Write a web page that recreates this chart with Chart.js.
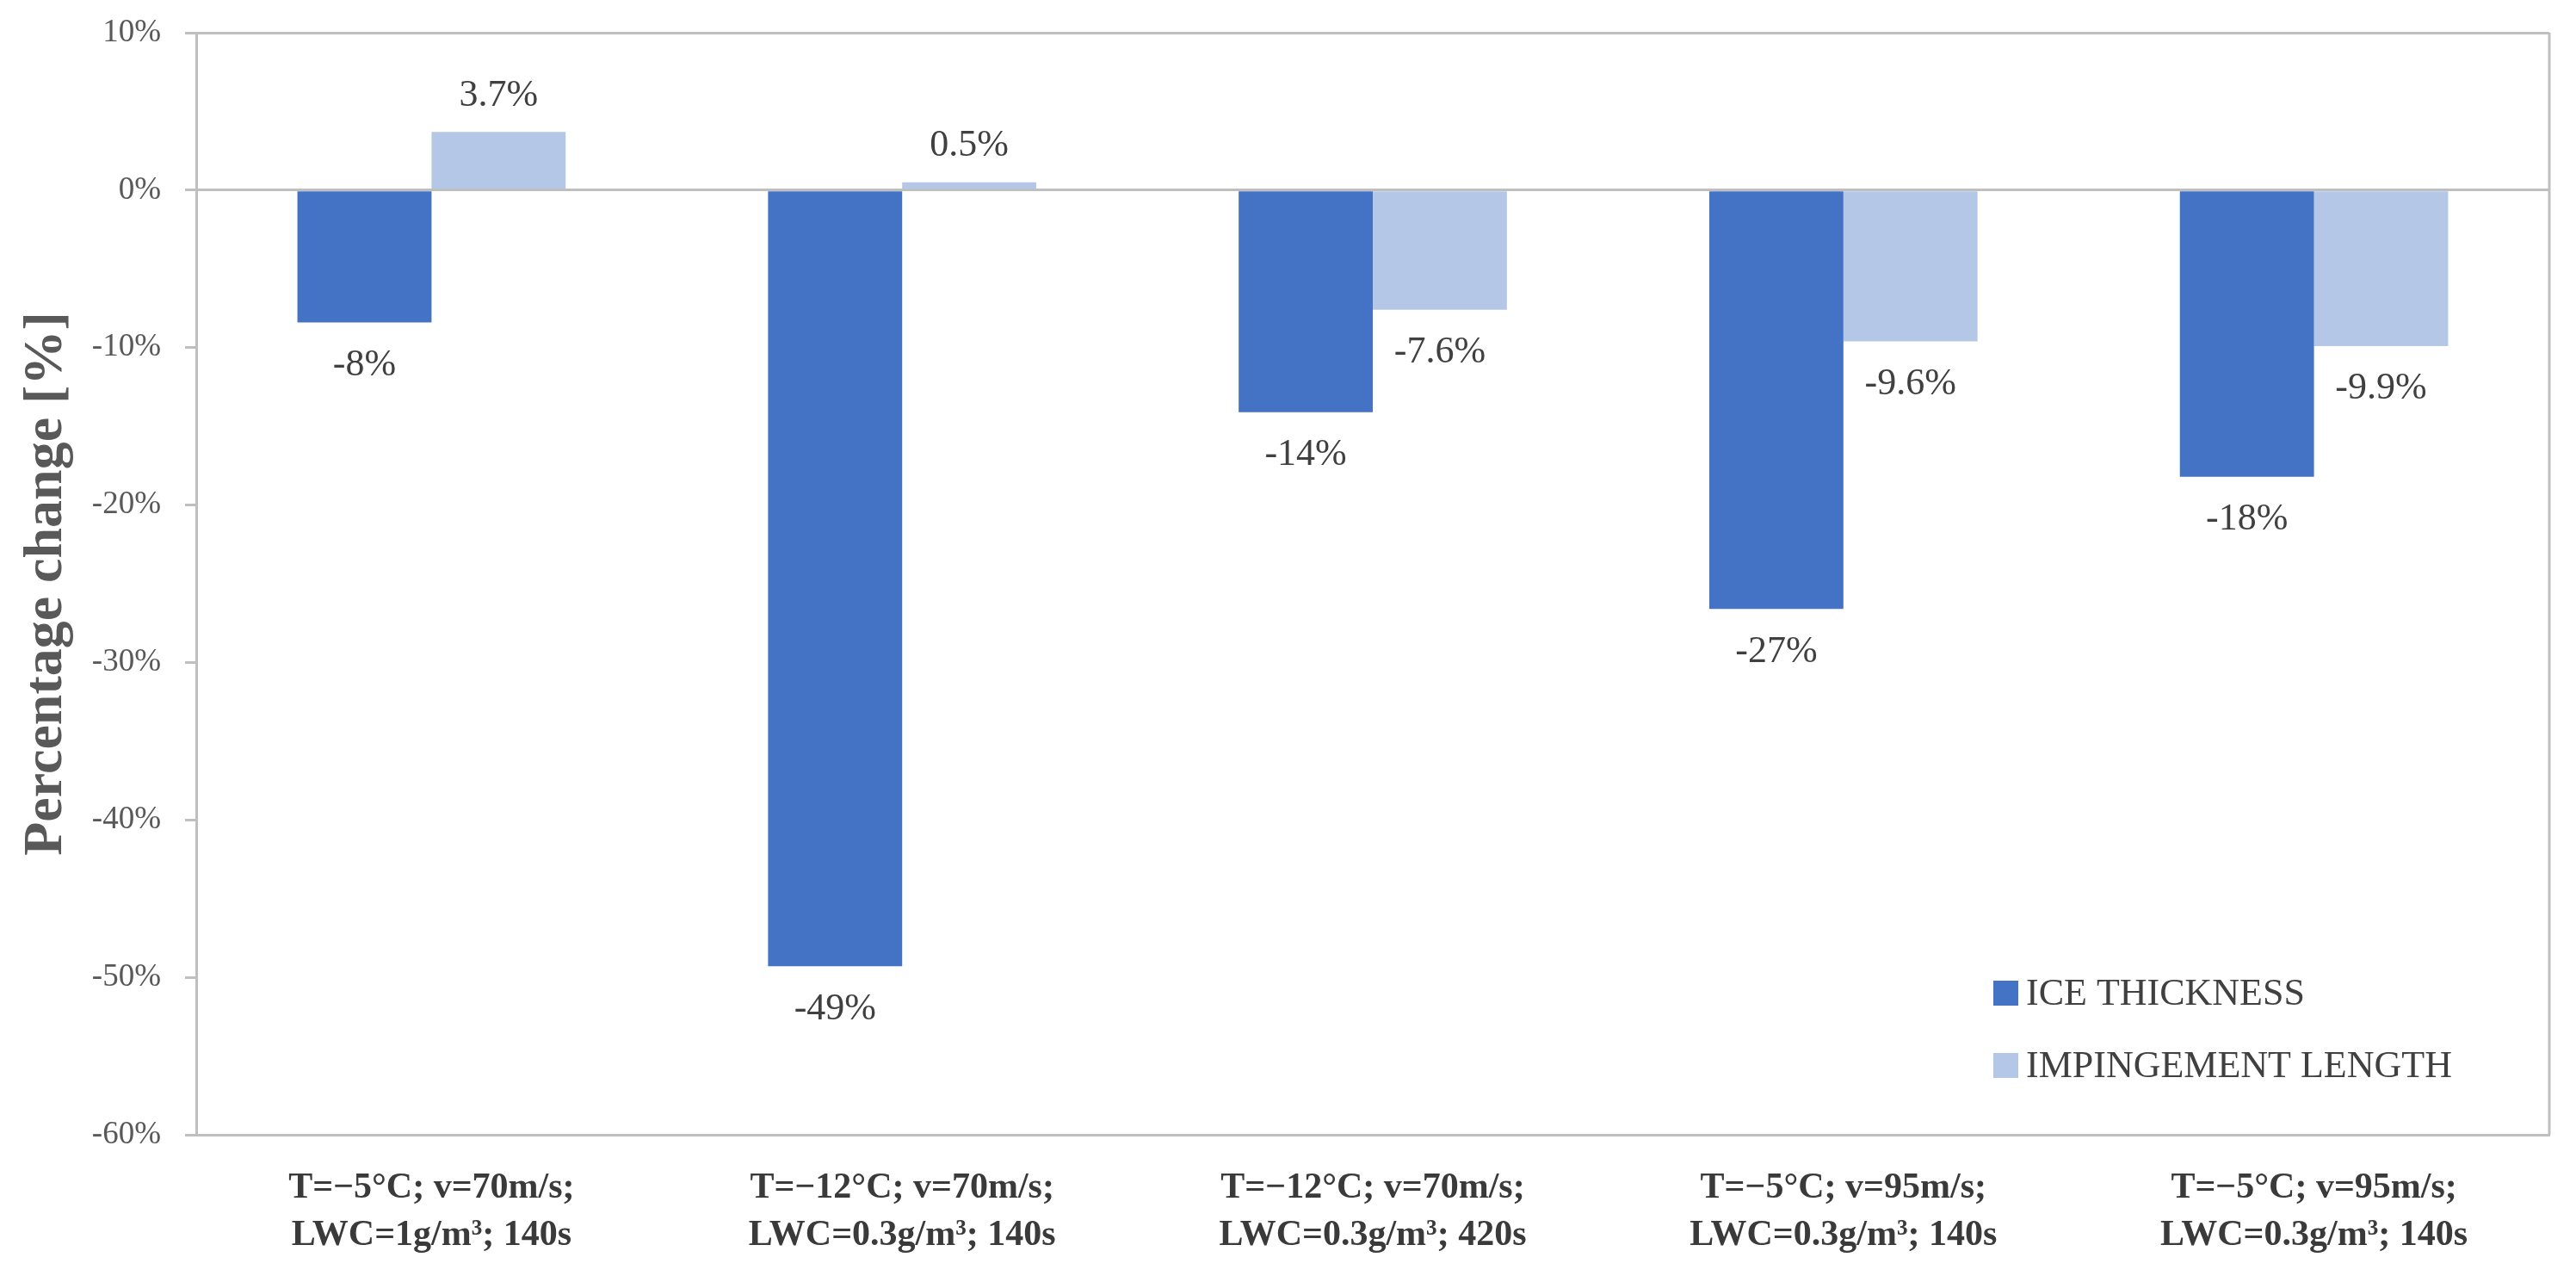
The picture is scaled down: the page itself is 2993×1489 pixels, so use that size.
<!DOCTYPE html>
<html>
<head>
<meta charset="utf-8">
<script src="https://cdn.jsdelivr.net/npm/chart.js@4.4.1/dist/chart.umd.min.js"></script>
<style>
  html, body { margin: 0; padding: 0; background: #fff; }
  #wrap { width: 2993px; height: 1489px; }
</style>
</head>
<body>
<div id="wrap"><canvas id="chart"></canvas></div>
<script>
// categories (two-line tick labels)
const categories = [
  ["T=−5°C; v=70m/s;", "LWC=1g/m³; 140s"],
  ["T=−12°C; v=70m/s;", "LWC=0.3g/m³; 140s"],
  ["T=−12°C; v=70m/s;", "LWC=0.3g/m³; 420s"],
  ["T=−5°C; v=95m/s;", "LWC=0.3g/m³; 140s"],
  ["T=−5°C; v=95m/s;", "LWC=0.3g/m³; 140s"]
];
const iceThickness = [-8.4, -49.3, -14.1, -26.6, -18.2];
const impingementLength = [3.7, 0.5, -7.6, -9.6, -9.9];
const seriesNames = ["ICE THICKNESS", "IMPINGEMENT LENGTH"];
const seriesColors = ["#4472C4", "#B4C7E7"];
const labelDigits = [0, 1];
const yTicks = [10, 0, -10, -20, -30, -40, -50, -60];
const fullGridAt = [10, 0, -60];

const GRID = "#BFBFBF";
const TEXT = "#404040";
const AXIS_TEXT = "#595959";

Chart.defaults.font.family = "'Liberation Serif', serif";

// value labels above / below each bar
const barValueLabels = {
  id: "barValueLabels",
  afterDatasetsDraw(chart) {
    const ctx = chart.ctx;
    ctx.save();
    ctx.font = "44px 'Liberation Serif'";
    ctx.fillStyle = TEXT;
    ctx.textAlign = "center";
    ctx.textBaseline = "middle";
    chart.data.datasets.forEach((ds, i) => {
      chart.getDatasetMeta(i).data.forEach((bar, j) => {
        const v = ds.data[j];
        const y = v >= 0 ? bar.y - 42 : bar.y + 50;
        ctx.fillText(v.toFixed(labelDigits[i]) + "%", bar.x, y);
      });
    });
    ctx.restore();
  }
};

// right border of the plot area
const plotFrame = {
  id: "plotFrame",
  beforeDatasetsDraw(chart) {
    const { ctx, chartArea } = chart;
    ctx.save();
    ctx.strokeStyle = GRID;
    ctx.lineWidth = 3;
    ctx.beginPath();
    ctx.moveTo(chartArea.right, chartArea.top);
    ctx.lineTo(chartArea.right, chartArea.bottom);
    ctx.stroke();
    ctx.restore();
  }
};

// legend inside the plot, bottom right
const innerLegend = {
  id: "innerLegend",
  afterDraw(chart) {
    const { ctx, chartArea } = chart;
    const left = chartArea.right - 646;
    const rows = [chartArea.bottom - 165, chartArea.bottom - 81];
    ctx.save();
    ctx.font = "44px 'Liberation Serif'";
    ctx.textBaseline = "middle";
    ctx.textAlign = "left";
    chart.data.datasets.forEach((ds, i) => {
      ctx.fillStyle = ds.backgroundColor;
      ctx.fillRect(left, rows[i] - 14, 29, 29);
      ctx.fillStyle = TEXT;
      ctx.fillText(ds.label, left + 38, rows[i] + 2);
    });
    ctx.restore();
  }
};

new Chart(document.getElementById("chart"), {
  type: "bar",
  data: {
    labels: categories,
    datasets: [
      { label: seriesNames[0], data: iceThickness, backgroundColor: seriesColors[0] },
      { label: seriesNames[1], data: impingementLength, backgroundColor: seriesColors[1] }
    ]
  },
  options: {
    responsive: true,
    maintainAspectRatio: false,
    animation: false,
    devicePixelRatio: 1,
    layout: { padding: { top: 38, right: 31, left: 0, bottom: 0 } },
    datasets: {
      bar: { categoryPercentage: 0.57, barPercentage: 1.0 }
    },
    plugins: {
      legend: { display: false },
      tooltip: { enabled: false }
    },
    scales: {
      x: {
        grid: { display: false, drawTicks: false },
        border: { display: true, color: GRID, width: 3 },
        ticks: {
          color: "#3a3a3a",
          font: { size: 42, weight: "bold", lineHeight: "55px" },
          padding: 35,
          maxRotation: 0,
          autoSkip: false
        },
        afterFit(scale) { scale.height = 171; }
      },
      y: {
        min: -60,
        max: 10,
        afterBuildTicks(scale) {
          scale.ticks = yTicks.map(v => ({ value: v }));
        },
        grid: {
          color: c => (fullGridAt.includes(c.tick.value) ? GRID : "rgba(0,0,0,0)"),
          tickColor: GRID,
          lineWidth: 3,
          tickLength: 13
        },
        border: { display: true, color: GRID, width: 3 },
        ticks: {
          color: AXIS_TEXT,
          font: { size: 37 },
          padding: 28,
          callback: v => v + "%"
        },
        title: {
          display: true,
          text: "Percentage change [%]",
          color: AXIS_TEXT,
          font: { size: 64, weight: "bold" },
          padding: { top: 16, bottom: 0 }
        },
        afterFit(scale) {
          scale.width = 228;
          // keep the plot top at the layout padding, not label padding
          scale.paddingTop = 0;
          scale.paddingBottom = 0;
        }
      }
    }
  },
  plugins: [plotFrame, barValueLabels, innerLegend]
});
</script>
</body>
</html>
